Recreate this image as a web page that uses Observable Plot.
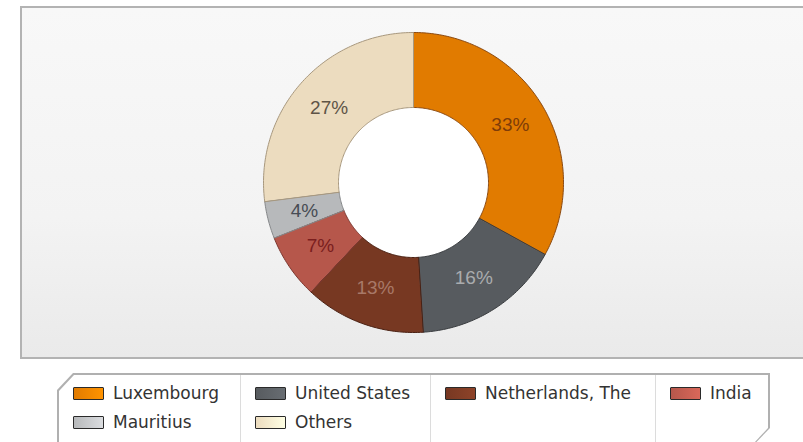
<!DOCTYPE html>
<html>
<head>
<meta charset="utf-8">
<script src="https://cdn.jsdelivr.net/npm/d3@7"></script>
<script src="https://cdn.jsdelivr.net/npm/@observablehq/plot@0.6"></script>
<style>
  html, body { margin: 0; padding: 0; background: #ffffff; width: 803px; height: 442px; overflow: hidden; position: relative; }
  #panel { position: absolute; left: 20px; top: 6px; width: 790px; height: 349px;
           border-left: 2px solid #b3b3b3; border-top: 2px solid #b3b3b3; border-bottom: 2px solid #b3b3b3;
           background: linear-gradient(to bottom, #f8f8f8 0%, #f3f3f3 60%, #eaeaea 100%); }
  #chart { position: absolute; left: 0; top: 0; }
  #legend-outer { position: absolute; left: 57px; top: 373px; width: 713px; height: 84px; background: #b0b0b0;
                  clip-path: polygon(16px 0, 713px 0, 713px 55px, 685px 84px, 0 84px, 0 17px); }
  #legend { position: absolute; left: 2px; top: 2px; width: 709px; height: 84px; background: #ffffff;
            clip-path: polygon(15px 0, 709px 0, 709px 53px, 682px 82px, 0 82px, 0 16px); }
  .col { position: absolute; top: 0; height: 84px; border-left: 1px solid #dcdcdc; }
  .col:first-child { border-left: none; }
  .item { position: absolute; left: 14px; height: 20px; display: flex; align-items: center;
          font-family: "DejaVu Sans", Verdana, sans-serif; font-size: 17px; color: #333; white-space: nowrap; }
  .sw { width: 29px; height: 11px; border: 1.5px solid #2a2a2a; border-radius: 1px; margin-right: 9px; }
</style>
</head>
<body>
<div id="panel"></div>
<div id="chart"></div>
<div id="legend-outer"><div id="legend"></div></div>
<script>
// ---- data ----
const categories = ["Luxembourg", "United States", "Netherlands, The", "India", "Mauritius", "Others"];
const shares = [33, 16, 13, 7, 4, 27];
const sliceColors = ["#e17b00", "#575b5f", "#773822", "#b6574b", "#b7b9bb", "#ecdcbf"];
const edgeColors = ["#8b4a12", "#3a3d40", "#4a2012", "#7c3830", "#86888a", "#a8987e"];
const labelColors = ["#7e3c08", "#aaacae", "#a87868", "#7a1e1e", "#474c54", "#5e5447"];
const labelTexts = ["33%", "16%", "13%", "7%", "4%", "27%"];

// legend layout (columns of category indices)
const legendColumns = [[0, 4], [1, 5], [2], [3]];
const legendColumnWidths = [181, 190, 225, 113];

// ---- build slice geometry from pie angles ----
const pie = d3.pie().sort(null).value(d => d.share)(categories.map((name, i) => ({name, share: shares[i], i})));
const R0 = 0.5, R1 = 1;
const points = [];
const labels = [];
pie.forEach(p => {
  const i = p.data.i;
  const n = Math.max(6, Math.ceil((p.endAngle - p.startAngle) / (2 * Math.PI) * 360));
  for (let k = 0; k <= n; k++) {
    const a = p.startAngle + (p.endAngle - p.startAngle) * k / n;
    points.push({name: p.data.name, x: R1 * Math.sin(a), y: R1 * Math.cos(a), fill: sliceColors[i], stroke: edgeColors[i]});
  }
  for (let k = n; k >= 0; k--) {
    const a = p.startAngle + (p.endAngle - p.startAngle) * k / n;
    points.push({name: p.data.name, x: R0 * Math.sin(a), y: R0 * Math.cos(a), fill: sliceColors[i], stroke: edgeColors[i]});
  }
  const m = (p.startAngle + p.endAngle) / 2, rl = (R0 + R1) / 2;
  labels.push({x: rl * Math.sin(m), y: rl * Math.cos(m), text: labelTexts[i], color: labelColors[i]});
});

const chart = Plot.plot({
  width: 803,
  height: 360,
  margin: 0,
  style: {background: "transparent", overflow: "visible"},
  x: {domain: [-1, 1], range: [263, 563], axis: null},
  y: {domain: [-1, 1], range: [332, 32], axis: null},
  color: {type: "identity"},
  marks: [
    Plot.dot([{x: 0, y: 0}], {x: "x", y: "y", r: 76, fill: "#ffffff", stroke: "none"}),
    Plot.line(points, {x: "x", y: "y", z: "name", fill: "fill", stroke: "stroke", strokeWidth: 1, curve: "linear-closed"}),
    Plot.text(labels, {x: "x", y: "y", text: "text", fill: "color", fontSize: 19, fontFamily: "Liberation Sans, Arial, sans-serif"})
  ]
});
document.getElementById("chart").appendChild(chart);

// ---- legend ----
const legend = document.getElementById("legend");
let left = 0;
legendColumns.forEach((col, c) => {
  const div = document.createElement("div");
  div.className = "col";
  div.style.left = left + "px";
  div.style.width = legendColumnWidths[c] + "px";
  col.forEach((idx, r) => {
    const item = document.createElement("div");
    item.className = "item";
    item.style.top = (8 + r * 29) + "px";
    const sw = document.createElement("span");
    sw.className = "sw";
    const base = d3.color(sliceColors[idx]);
    sw.style.background = `linear-gradient(to right, ${base.formatHex()}, ${base.brighter(0.5).formatHex()})`;
    item.appendChild(sw);
    item.appendChild(document.createTextNode(categories[idx]));
    div.appendChild(item);
  });
  legend.appendChild(div);
  left += legendColumnWidths[c];
});
</script>
</body>
</html>
